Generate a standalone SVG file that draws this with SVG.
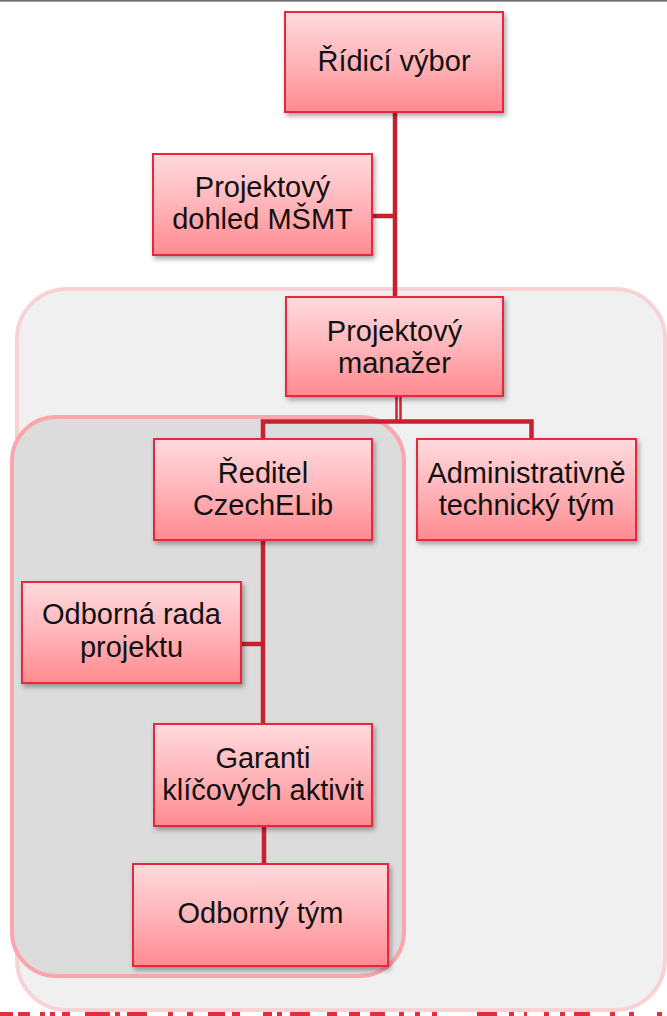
<svg xmlns="http://www.w3.org/2000/svg" width="667" height="1016" viewBox="0 0 667 1016">
<style>
.box{fill:url(#g);stroke:#e9283a;stroke-width:2;filter:url(#sh)}
.t{font-family:"Liberation Sans",Arial,sans-serif;font-size:29px;fill:#111;text-anchor:middle}
.c{fill:none;stroke:#c8202f;stroke-width:4.5}
</style>
<defs>
<linearGradient id="g" x1="0" y1="0" x2="0" y2="1">
<stop offset="0" stop-color="#ffdadd"/>
<stop offset="0.5" stop-color="#ffb5ba"/>
<stop offset="1" stop-color="#ff8a90"/>
</linearGradient>
<filter id="sh" x="-10%" y="-10%" width="125%" height="130%">
<feDropShadow dx="2" dy="3" stdDeviation="2.5" flood-color="#000" flood-opacity="0.35"/>
</filter>
</defs>
<rect x="0" y="0" width="667" height="1016" fill="#fff"/>
<rect x="0" y="0" width="667" height="1.6" fill="#6b6b6b"/>
<g id="bottom-strip" fill="none" stroke="#e0303e" stroke-width="4">
<path d="M0 1014h13M18 1014h12M40 1014h5M50 1014h5M62 1014h8M85 1014h25M115 1014h5M127 1014h20M168 1014h5M187 1014h6M208 1014h17M232 1014h8M263 1014h9M277 1014h5M290 1014h20M327 1014h10M349 1014h11M370 1014h15M399 1014h5M415 1014h5M432 1014h5M477 1014h20M509 1014h5M524 1014h3M544 1014h5M560 1014h5M574 1014h16M610 1014h5M629 1014h5M657 1014h5"/>
</g>
<g id="container-outer">
<rect x="17" y="289" width="648" height="721" rx="50" fill="#f0f0f0" stroke="#f9d2d6" stroke-width="4"/>
</g>
<g id="container-inner">
<rect x="12" y="417" width="392" height="559" rx="44" fill="#dcdcdc" stroke="#f9a6ad" stroke-width="4"/>
</g>
<g id="connectors">
<path class="c" d="M395 112V297M372 216H395"/>
<path d="M396.5 396V421M400.5 396V421" fill="none" stroke="#d42232" stroke-width="2.5"/>
<path class="c" stroke="#d62434" d="M263 439V421.5H531.5V439"/>
<path class="c" stroke="#d82334" d="M263 540V724M241 644H263"/>
<path class="c" stroke="#ee2236" stroke-width="6" d="M264 826V864"/>
</g>
<g id="n-ridici-vybor">
<rect class="box" x="285" y="12" width="218" height="100"/>
<text class="t" x="394" y="71">Řídicí výbor</text>
</g>
<g id="n-dohled">
<rect class="box" x="153" y="154" width="219" height="101"/>
<text class="t" x="262.5" y="197">Projektový</text>
<text class="t" x="262.5" y="229">dohled MŠMT</text>
</g>
<g id="n-manazer">
<rect class="box" x="286" y="297" width="217" height="99"/>
<text class="t" x="394.5" y="341">Projektový</text>
<text class="t" x="394.5" y="373">manažer</text>
</g>
<g id="n-reditel">
<rect class="box" x="154" y="439" width="218" height="101"/>
<text class="t" x="263" y="483">Ředitel</text>
<text class="t" x="263" y="515">CzechELib</text>
</g>
<g id="n-admin">
<rect class="box" x="417" y="439" width="219" height="101"/>
<text class="t" x="526.5" y="483">Administrativně</text>
<text class="t" x="526.5" y="515">technický tým</text>
</g>
<g id="n-rada">
<rect class="box" x="22" y="582" width="219" height="101"/>
<text class="t" x="131.5" y="624">Odborná rada</text>
<text class="t" x="131.5" y="657">projektu</text>
</g>
<g id="n-garanti">
<rect class="box" x="154" y="724" width="218" height="102"/>
<text class="t" x="263" y="768">Garanti</text>
<text class="t" x="263" y="800">klíčových aktivit</text>
</g>
<g id="n-odborny-tym">
<rect class="box" x="133" y="864" width="255" height="102"/>
<text class="t" x="260.5" y="923">Odborný tým</text>
</g>
</svg>
